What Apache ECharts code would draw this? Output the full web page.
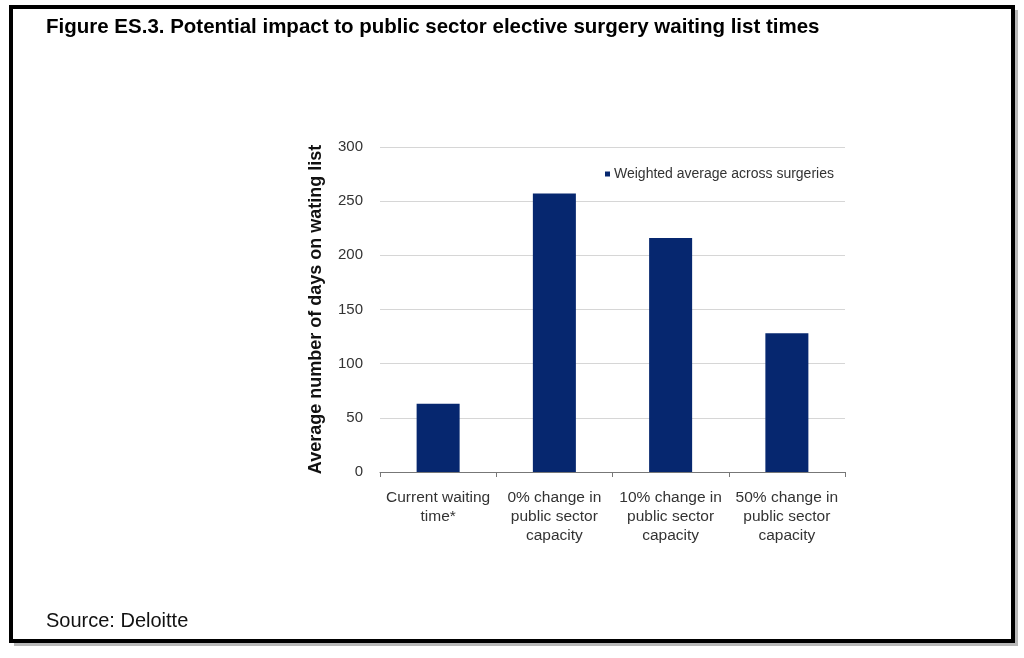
<!DOCTYPE html>
<html>
<head>
<meta charset="utf-8">
<script src="https://cdn.jsdelivr.net/npm/echarts@6/dist/echarts.min.js"></script>
<style>
  html, body { margin: 0; padding: 0; background: #fff; }
  #container { width: 1024px; height: 658px; }
</style>
</head>
<body>
<div id="container"></div>
<script>
const categories = [
  'Current waiting\ntime*',
  '0% change in\npublic sector\ncapacity',
  '10% change in\npublic sector\ncapacity',
  '50% change in\npublic sector\ncapacity'
]
const weighted = [63, 257, 216, 128]
const seriesName = 'Weighted average across surgeries'

const chart = echarts.init(document.getElementById('container'))

const font = '"Liberation Sans", Arial, sans-serif'

chart.setOption({
  backgroundColor: '#fff',
  animation: false,
  textStyle: { fontFamily: font },
  graphic: [
    {
      type: 'rect',
      shape: { x: 14, y: 10, width: 1004, height: 636 },
      style: { fill: '#b8b8b8' },
      z: -2
    },
    {
      type: 'rect',
      shape: { x: 11, y: 7, width: 1002, height: 634 },
      style: { fill: '#fff', stroke: '#000', lineWidth: 4 },
      z: -1
    },
    {
      type: 'text',
      left: 46,
      top: 17,
      style: {
        text: 'Figure ES.3. Potential impact to public sector elective surgery waiting list times',
        font: 'bold 20.5px ' + font,
        fill: '#000'
      }
    },
    {
      type: 'text',
      left: 46,
      top: 611,
      style: {
        text: 'Source: Deloitte',
        font: '20px ' + font,
        fill: '#111'
      }
    }
  ],
  legend: {
    data: [seriesName],
    left: 600,
    top: 162,
    icon: 'rect',
    itemWidth: 5,
    itemHeight: 5,
    itemGap: 4,
    textStyle: { fontSize: 14, color: '#333', fontFamily: font, padding: [0, 0, 0, -1] }
  },
  grid: {
    left: 380,
    right: 179,
    top: 147,
    bottom: 186
  },
  xAxis: {
    type: 'category',
    data: categories,
    axisLine: { lineStyle: { color: '#777', width: 1 } },
    axisTick: { show: true, length: 5, lineStyle: { color: '#777' } },
    axisLabel: {
      color: '#333',
      fontSize: 15.5,
      lineHeight: 19,
      margin: 16,
      interval: 0,
      fontFamily: font
    }
  },
  yAxis: {
    type: 'value',
    min: 0,
    max: 300,
    interval: 50,
    name: 'Average number of days on wating list',
    nameLocation: 'middle',
    nameGap: 55,
    nameRotate: 90,
    nameTextStyle: { fontSize: 18, fontWeight: 'bold', color: '#111', fontFamily: font },
    axisLine: { show: false },
    axisTick: { show: false },
    axisLabel: { color: '#333', fontSize: 15, margin: 17, fontFamily: font },
    splitLine: { lineStyle: { color: '#d6d6d6', width: 1 } }
  },
  series: [
    {
      name: seriesName,
      type: 'bar',
      data: weighted,
      barWidth: '37%',
      itemStyle: { color: '#06276f' }
    }
  ]
})
</script>
</body>
</html>
